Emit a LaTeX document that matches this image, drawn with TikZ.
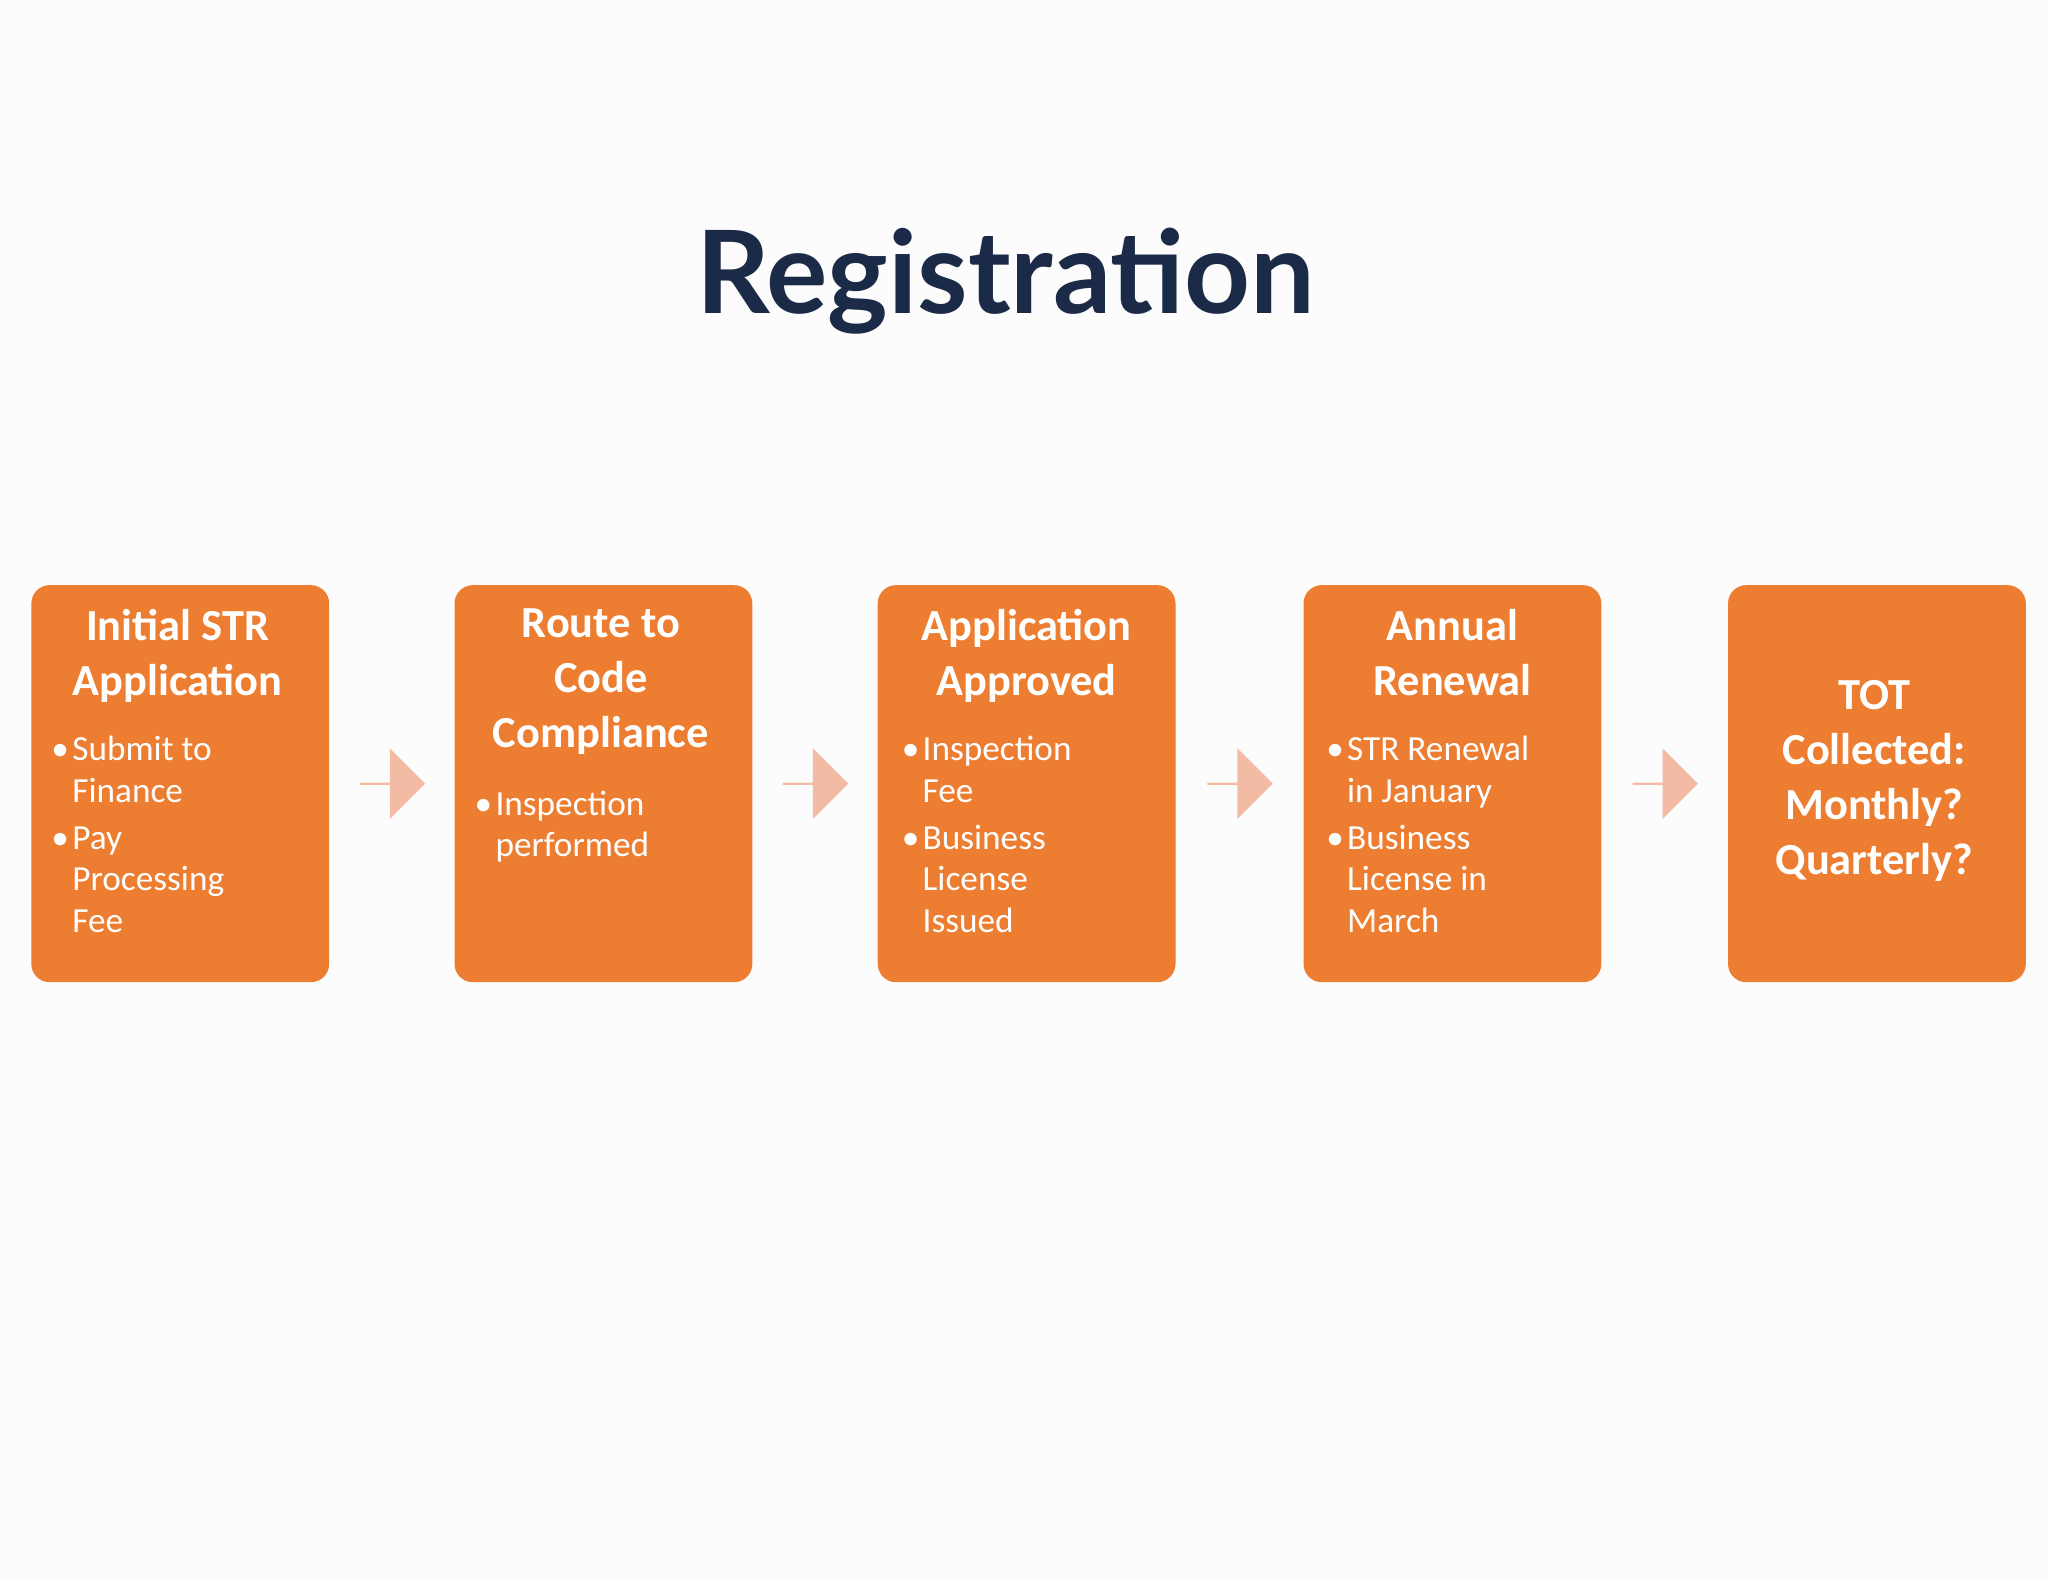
\documentclass[tikz,border=0pt]{standalone}
\usepackage{fontspec}
\setmainfont{Carlito}
\newfontfamily\headfont{Lato}
\usetikzlibrary{positioning,shapes.arrows,calc}
\definecolor{boxorange}{HTML}{ED7D31}
\definecolor{arrowpink}{HTML}{F3BBA3}
\definecolor{navy}{HTML}{1B2A47}
\newcommand{\bul}[1]{\makebox[8pt][l]{\textbullet}#1}
\newcommand{\cont}[1]{\hspace*{8pt}#1}
\begin{document}
\begin{tikzpicture}[x=0.5pt,y=-0.5pt,
  stage/.style={draw=none, fill=boxorange, rounded corners=7pt, minimum width=114pt, minimum height=152pt, inner sep=0pt},
  head/.style={text=white, font=\bfseries\fontsize{17}{21}\selectfont, align=center, inner sep=0pt, anchor=north},
  items/.style={text=white, font=\fontsize{13.5}{16}\selectfont, align=left, inner sep=0pt, anchor=north west},
  link/.style={single arrow, fill=arrowpink, draw=none, minimum width=27pt, single arrow head extend=6pt, minimum height=25pt, inner sep=0pt}]
\useasboundingbox (0,0) rectangle (1568,1211);
\fill[white!98!gray] (0,0) rectangle (1568,1211);
\node[text=navy, font=\headfont\bfseries\fontsize{44}{50}\selectfont] (title) at (770,215) {Registration};
% stages
\node[stage] (s1) at (138,600) {};
\node[stage] (s2) at (462,600) {};
\node[stage] (s3) at (786,600) {};
\node[stage] (s4) at (1112,600) {};
\node[stage] (s5) at (1437,600) {};
\node[head] (h1) at (136,466) {Initial STR\\Application};
\node[head] (h2) at (460,466) {Route to\\Code\\Compliance};
\node[head] (h3) at (786,466) {Application\\Approved};
\node[head] (h4) at (1112,466) {Annual\\Renewal};
\node[head, anchor=center] (h5) at (1435,598) {TOT\\Collected:\\Monthly?\\Quarterly?};
\node[items] (b1) at (39,563) {\bul{Submit to}\\\cont{Finance}\\[2pt]\bul{Pay}\\\cont{Processing}\\\cont{Fee}};
\node[items] (b2) at (363,605) {\bul{Inspection}\\\cont{performed}};
\node[items] (b3) at (690,563) {\bul{Inspection}\\\cont{Fee}\\[2pt]\bul{Business}\\\cont{License}\\\cont{Issued}};
\node[items] (b4) at (1015,563) {\bul{STR Renewal}\\\cont{in January}\\[2pt]\bul{Business}\\\cont{License in}\\\cont{March}};
% arrows between stages
\foreach \a/\b in {s1/s2,s2/s3,s3/s4,s4/s5}
  \node[link] (\a-\b) at ($(\a.east)!0.5!(\b.west)$) {};
\end{tikzpicture}
\end{document}
